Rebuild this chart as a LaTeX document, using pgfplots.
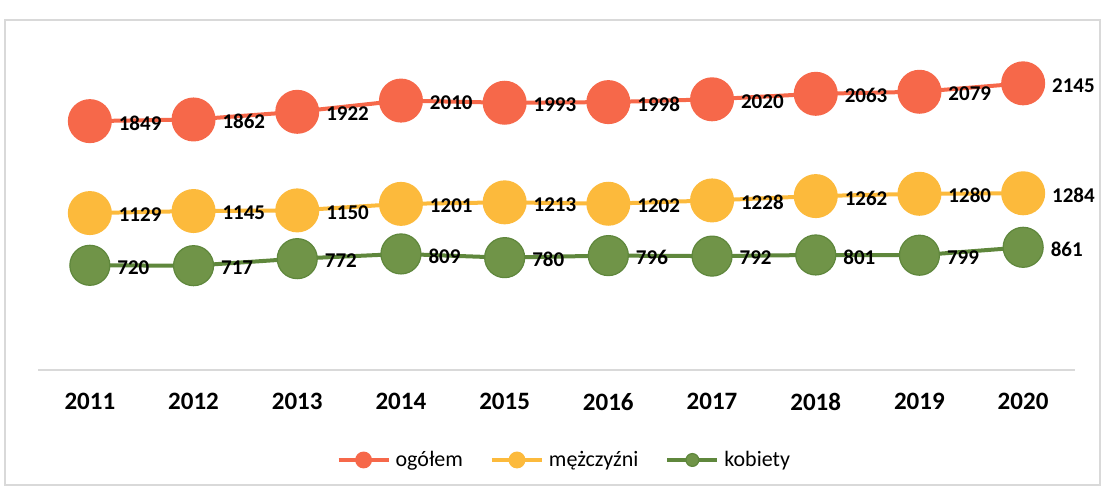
\documentclass[border=0pt]{standalone}
\usepackage{fontspec}
\setmainfont{Carlito}
\usepackage{pgfplots}
\pgfplotsset{compat=1.18}
\definecolor{cred}{RGB}{246,104,74}
\definecolor{cyel}{RGB}{252,186,60}
\definecolor{cgrn}{RGB}{112,148,72}
\definecolor{lgrn}{RGB}{95,135,60}
\definecolor{axgray}{RGB}{217,217,217}
\begin{document}
\begin{tikzpicture}
\begin{axis}[
  scale only axis,
  width=518.5pt, height=166pt,
  xmin=2010.5, xmax=2020.5,
  ymin=-100, ymax=2500,
  axis x line=bottom,
  axis y line=none,
  axis line style={axgray, line width=1pt, -},
  xtick={2011,...,2020},
  xticklabel style={font=\fontsize{12.5}{14}\selectfont\bfseries, yshift=-8pt},
  /pgf/number format/assume math mode=true,
  /pgf/number format/set thousands separator={},
  major tick length=0pt,
  clip=false,
  nodes near coords,
  every node near coord/.append style={font=\fontsize{10.5}{12}\selectfont\bfseries, anchor=west, xshift=13.5pt, yshift=-1pt, text=black, inner sep=0pt},
  legend style={at={(0.508,-0.271)}, anchor=center, draw=none, legend columns=3,
    font=\fontsize{11}{13}\selectfont, column sep=1pt,
    /tikz/every even column/.append style={column sep=12pt},
    nodes={inner xsep=1.5pt}},
  legend cell align=left,
  legend image code/.code={\draw[#1, mark repeat=2, mark phase=2, mark size=3.2pt] plot coordinates {(0pt,0pt) (12.5pt,0pt) (25pt,0pt)};},
]
\addplot[cred, line width=2pt, mark=*, mark size=10pt, mark options={fill=cred, draw=cred}]
  coordinates {(2011,1849) (2012,1862) (2013,1922) (2014,2010) (2015,1993) (2016,1998) (2017,2020) (2018,2063) (2019,2079) (2020,2145)};
\addlegendentry{ogółem}
\addplot[cyel, line width=2pt, mark=*, mark size=10pt, mark options={fill=cyel, draw=cyel}]
  coordinates {(2011,1129) (2012,1145) (2013,1150) (2014,1201) (2015,1213) (2016,1202) (2017,1228) (2018,1262) (2019,1280) (2020,1284)};
\addlegendentry{mężczyźni}
\addplot[lgrn, line width=2pt, mark=*, mark size=10pt, mark options={fill=cgrn, draw=lgrn, line width=0.6pt}]
  coordinates {(2011,720) (2012,717) (2013,772) (2014,809) (2015,780) (2016,796) (2017,792) (2018,801) (2019,799) (2020,861)};
\addlegendentry{kobiety}
\end{axis}
\draw[axgray, line width=0.6pt] ([xshift=-16.5pt,yshift=-57.5pt]current axis.south west) rectangle ([xshift=12.5pt,yshift=9pt]current axis.north east);
\useasboundingbox ([xshift=-19pt,yshift=-59.5pt]current axis.south west) rectangle ([xshift=15.5pt,yshift=19pt]current axis.north east);
\end{tikzpicture}
\end{document}
